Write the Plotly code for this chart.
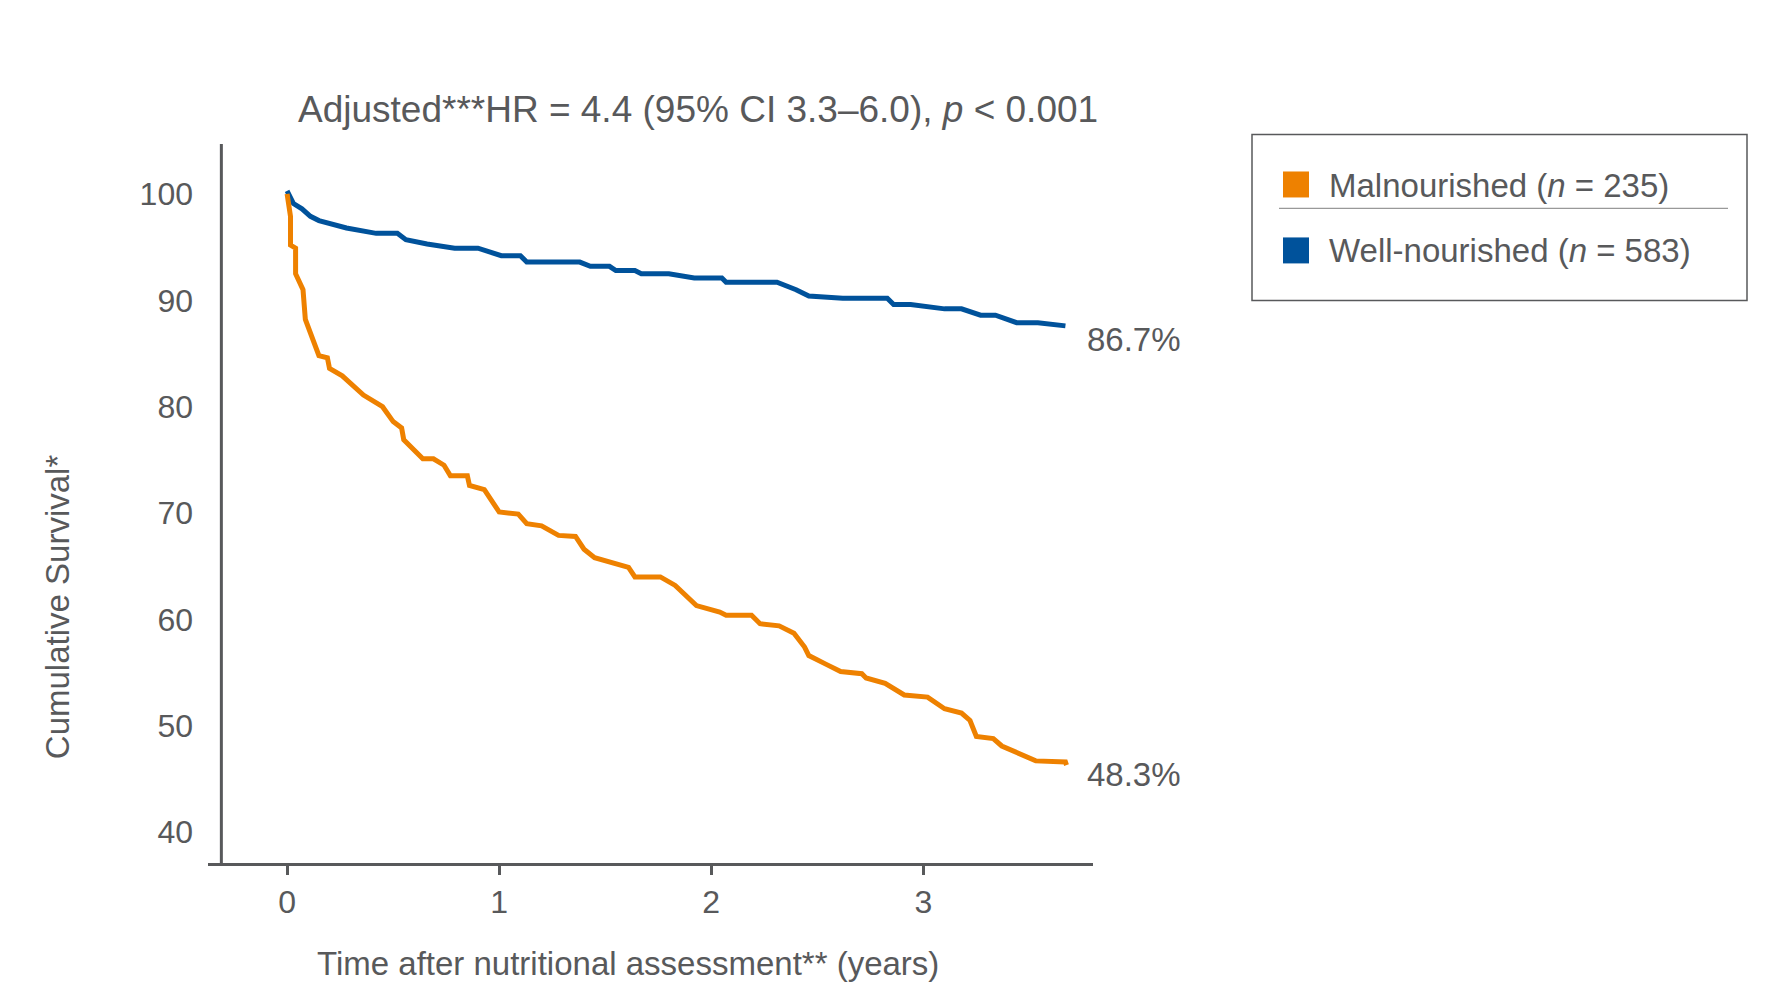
import plotly.graph_objects as go

blue_t = [0,0.03,0.07,0.11,0.15,0.21,0.28,0.42,0.52,0.56,0.66,0.79,0.9,1.01,1.1,1.13,1.38,1.43,1.52,1.55,1.64,1.67,1.8,1.92,2.05,2.07,2.31,2.4,2.46,2.62,2.83,2.86,2.94,3.1,3.18,3.27,3.34,3.44,3.54,3.67]
blue_s = [100.3,99.1,98.6,97.9,97.5,97.2,96.8,96.3,96.3,95.7,95.3,94.9,94.9,94.2,94.2,93.6,93.6,93.2,93.2,92.8,92.8,92.5,92.5,92.1,92.1,91.7,91.7,91.0,90.4,90.2,90.2,89.6,89.6,89.2,89.2,88.6,88.6,87.9,87.9,87.6]
or_t = [0,0.016,0.016,0.04,0.04,0.075,0.086,0.15,0.19,0.2,0.26,0.36,0.45,0.5,0.54,0.55,0.64,0.69,0.74,0.77,0.85,0.86,0.93,1.0,1.09,1.13,1.2,1.28,1.36,1.4,1.45,1.55,1.61,1.64,1.76,1.83,1.93,2.04,2.07,2.19,2.23,2.32,2.39,2.44,2.46,2.54,2.61,2.71,2.73,2.82,2.91,3.02,3.1,3.18,3.22,3.25,3.33,3.37,3.47,3.53,3.67,3.675]
or_s = [100,97.9,95.2,94.9,92.5,91.0,88.2,84.8,84.6,83.6,82.9,81.1,80.0,78.6,78.0,76.9,75.1,75.1,74.5,73.5,73.5,72.6,72.2,70.1,69.9,69.0,68.8,67.9,67.8,66.6,65.8,65.3,64.9,64.0,64.0,63.2,61.3,60.7,60.4,60.4,59.6,59.4,58.7,57.4,56.6,55.8,55.1,54.9,54.5,54.0,52.9,52.7,51.6,51.2,50.5,49.0,48.8,48.1,47.3,46.7,46.6,46.3]
x_ticks = [0,1,2,3]
y_ticks = [40,50,60,70,80,90,100]
legend_labels = ["Malnourished (<i>n</i> = 235)", "Well-nourished (<i>n</i> = 583)"]
end_labels = ["86.7%", "48.3%"]

ORANGE = "#EE8100"; BLUE = "#00529B"; GRAY = "#58595b"
FONT = "Liberation Sans"
OFF = 8
L, R, T, B = 200, 1085, 135.5, 855
def px(x): return (x - OFF - L) / (R - L)
def py(y): return (B - (y - OFF)) / (B - T)

fig = go.Figure()
fig.add_trace(go.Scatter(x=blue_t, y=blue_s, mode="lines", line=dict(color=BLUE, width=5), showlegend=False))
fig.add_trace(go.Scatter(x=or_t, y=or_s, mode="lines", line=dict(color=ORANGE, width=5), showlegend=False))

shapes = [
    dict(type="line", xref="x", yref="y", x0=-0.31, x1=-0.31, y0=37.1, y1=104.7, line=dict(color=GRAY, width=3)),
    dict(type="rect", xref="paper", yref="paper", x0=px(1252), x1=px(1747), y0=py(134), y1=py(300), line=dict(color=GRAY, width=1.5)),
    dict(type="line", xref="paper", yref="paper", x0=px(1279), x1=px(1728), y0=py(208), y1=py(208), line=dict(color="#999", width=1.2)),
    dict(type="rect", xref="paper", yref="paper", x0=px(1283), x1=px(1309), y0=py(171), y1=py(197), fillcolor=ORANGE, line=dict(width=0)),
    dict(type="rect", xref="paper", yref="paper", x0=px(1283), x1=px(1309), y0=py(237), y1=py(263), fillcolor=BLUE, line=dict(width=0)),
]
ann = [
    dict(x=px(1327), y=py(185), text=legend_labels[0], xanchor="left"),
    dict(x=px(1327), y=py(250), text=legend_labels[1], xanchor="left"),
    dict(x=px(1085), y=py(339), text=end_labels[0], xanchor="left"),
    dict(x=px(1085), y=py(774), text=end_labels[1], xanchor="left"),
    dict(x=px(698), y=py(109), text="Adjusted***HR = 4.4 (95% CI 3.3–6.0), <i>p</i> < 0.001", xanchor="center", size=37),
    dict(x=px(628), y=py(964), text="Time after nutritional assessment** (years)", xanchor="center"),
    dict(x=px(57), y=py(607), text="Cumulative Survival*", xanchor="center", textangle=-90),
]
annotations = []
for a in ann:
    size = a.pop("size", 33)
    annotations.append(dict(xref="paper", yref="paper", yanchor="middle", showarrow=False,
                            font=dict(family=FONT, size=size, color=GRAY), **a))

fig.update_layout(
    width=1785, height=1001, paper_bgcolor="white", plot_bgcolor="white",
    margin=dict(l=L, r=1785 - R, t=T, b=1001 - B),
    shapes=shapes, annotations=annotations, showlegend=False,
    font=dict(family=FONT, color=GRAY, size=32),
    xaxis=dict(range=[-0.373, 3.80], tickvals=x_ticks, showgrid=False, zeroline=False,
               showline=True, linecolor=GRAY, linewidth=3, ticks="outside", ticklen=9, tickwidth=3,
               tickcolor=GRAY, tickfont=dict(size=32)),
    yaxis=dict(range=[37.1, 104.7], tickvals=y_ticks, showgrid=False, zeroline=False,
               showline=False, ticks="", tickfont=dict(size=32), ticklabelstandoff=14),
)
fig.write_html("out.html")
